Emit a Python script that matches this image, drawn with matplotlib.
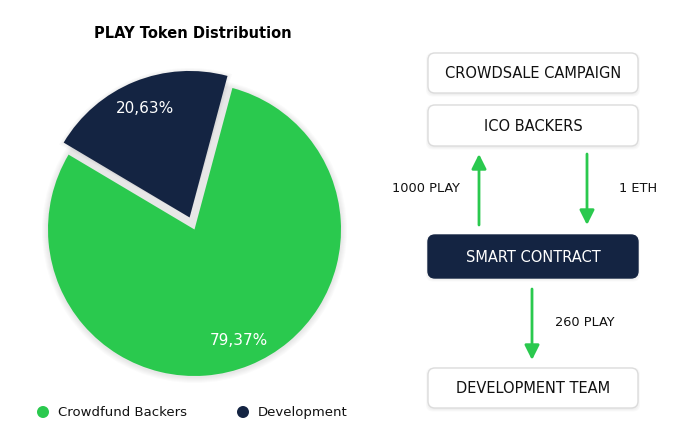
import matplotlib
matplotlib.use("Agg")
import matplotlib.pyplot as plt
from matplotlib.patches import FancyBboxPatch, Circle, Wedge

# ---- data ----
pie_labels = ["Crowdfund Backers", "Development"]
pie_values = [79.37, 20.63]
pie_colors = ["#2ac94e", "#142442"]
title = "PLAY Token Distribution"

flow_boxes = ["CROWDSALE CAMPAIGN", "ICO BACKERS", "SMART CONTRACT", "DEVELOPMENT TEAM"]
flow_labels = ["1000 PLAY", "1 ETH", "260 PLAY"]

GREEN = "#2ac94e"
NAVY = "#142442"
W, H = 693, 431

plt.rcParams['font.family'] = ['DejaVu Sans']
fig = plt.figure(figsize=(W / 100, H / 100), dpi=100)
ax = fig.add_axes([0, 0, 1, 1])
ax.set_xlim(0, W)
ax.set_ylim(0, H)
ax.set_aspect('equal')
ax.axis('off')

def Y(y):
    return H - y

# ---- pie ----
cx, cy, R = 194.5, Y(230.5), 146.5
# soft shadow
for i in range(6):
    ax.add_patch(Circle((cx, cy - 1), R + 1 + i, color="#000000", alpha=0.016, lw=0, zorder=1))

wedges, texts, autotexts = ax.pie(
    pie_values, colors=pie_colors, startangle=149.27, counterclock=True,
    explode=[0, 13], center=(cx, cy), radius=R,
    autopct=lambda p: f"{p:.2f}%".replace('.', ','), pctdistance=0.81,
    textprops=dict(color="white", fontsize=11), frame=True,
    wedgeprops=dict(linewidth=0),
)
for w in wedges:
    w.set_zorder(3)
for t in autotexts:
    t.set_zorder(5)
# faint shadow behind the exploded wedge
dw = wedges[1]
for k in range(3):
    ax.add_patch(Wedge(dw.center, dw.r + 1 + k, dw.theta1 - 0.5 * (k + 1), dw.theta2 + 0.5 * (k + 1),
                       fc="#000000", ec="none", alpha=0.018, zorder=2))
ax.set_xlim(0, W)
ax.set_ylim(0, H)
ax.axis('off')

ax.text(193, Y(33), title, ha='center', va='center', fontsize=10.5,
        fontweight='heavy', color='black')

# legend
leg_x = [43, 243]
for lx, lab, col in zip(leg_x, pie_labels, pie_colors):
    ax.add_patch(Circle((lx, Y(413)), 6, color=col, lw=0, zorder=3))
    ax.text(lx + 15, Y(413), lab, ha='left', va='center', fontsize=9.5, color='#111111')

# ---- flow chart ----
bx0, bx1 = 428, 638
box_y = [(54, 94), (106, 147), (236, 279), (369, 409)]
for i, (lab, (y0, y1)) in enumerate(zip(flow_boxes, box_y)):
    dark = (i == 2)
    # shadow
    for k in range(3):
        ax.add_patch(FancyBboxPatch((bx0 - k, Y(y1) - 1.5 - k), bx1 - bx0 + 2 * k, y1 - y0 + 2 * k,
                                    boxstyle="round,pad=0,rounding_size=7",
                                    fc="#000000", ec="none", alpha=0.025, zorder=2))
    ax.add_patch(FancyBboxPatch((bx0, Y(y1)), bx1 - bx0, y1 - y0,
                                boxstyle="round,pad=0,rounding_size=7",
                                fc=NAVY if dark else "white",
                                ec=NAVY if dark else "#dcdcdc", lw=1.0, zorder=3))
    ax.text((bx0 + bx1) / 2, Y((y0 + y1) / 2), lab, ha='center', va='center',
            fontsize=10.5, color='white' if dark else '#111111', zorder=4)

arrows = [((479, 226), (479, 155)), ((587, 155), (587, 226)), ((532, 290), (532, 361))]
for (x0, y0), (x1, y1) in arrows:
    ax.annotate('', xy=(x1, Y(y1)), xytext=(x0, Y(y0)),
                arrowprops=dict(arrowstyle='-|>,head_length=0.8,head_width=0.4',
                                color=GREEN, lw=2.0, shrinkA=0, shrinkB=0,
                                mutation_scale=11), zorder=3)

label_pos = [(426, 188), (638, 188), (585, 323)]
for lab, (x, y) in zip(flow_labels, label_pos):
    ax.text(x, Y(y), lab, ha='center', va='center', fontsize=9.3, color='#111111')

fig.savefig("out.png", dpi=100, facecolor='white')
